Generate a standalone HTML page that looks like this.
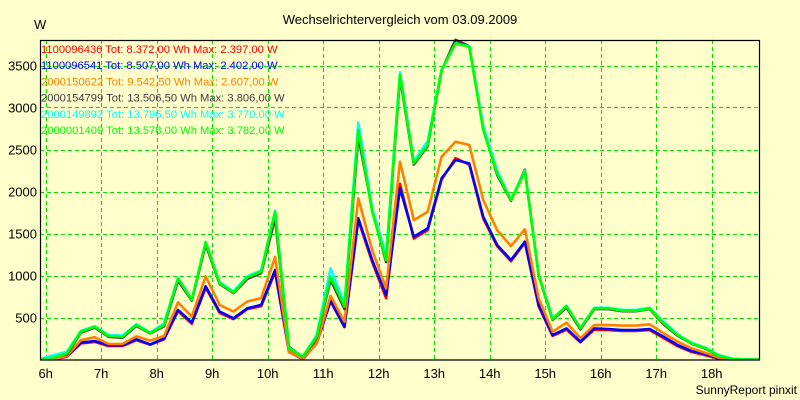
<!DOCTYPE html>
<html><head><meta charset="utf-8"><style>
html,body{margin:0;padding:0;background:#ffffcc;}
svg{display:block;font-family:"Liberation Sans",Arial,sans-serif;}
</style></head><body>
<svg id="chart" width="800" height="400" viewBox="0 0 800 400">
<rect x="0" y="0" width="800" height="400" fill="#ffffcc"/>
<text x="400" y="24" font-size="13" text-anchor="middle" fill="#000">Wechselrichtervergleich vom 03.09.2009</text>
<text x="34" y="29" font-size="13" fill="#000">W</text>
<text x="797" y="394" font-size="12" text-anchor="end" fill="#000">SunnyReport pinxit</text>
<g id="grid"></g>
<g id="series"></g>
<g id="axes"></g>
<g id="legend"></g>
</svg>
<script>
const times=["05:53","06:08","06:23","06:38","06:53","07:08","07:23","07:38","07:53","08:08","08:23","08:38","08:53","09:08","09:23","09:38","09:53","10:08","10:23","10:38","10:53","11:08","11:23","11:38","11:53","12:08","12:23","12:38","12:53","13:08","13:23","13:38","13:53","14:08","14:23","14:38","14:53","15:08","15:23","15:38","15:53","16:08","16:23","16:38","16:53","17:08","17:23","17:38","17:53","18:08","18:23","18:38","18:53"];
const redVals=[0,0,35,190,210,160,160,230,175,240,575,425,855,555,480,600,635,1040,90,5,190,690,385,1660,1160,728,2090,1440,1540,2140,2397,2320,1680,1350,1170,1390,630,280,355,205,355,350,340,340,350,255,160,90,50,8,0,0,0];
const blueVals=[0,0,40,200,220,170,170,240,180,250,590,440,870,570,490,610,650,1065,100,5,200,700,391,1681,1183,768,2037,1462,1561,2157,2375,2335,1700,1363,1184,1402,649,291,370,212,370,363,351,351,363,272,173,101,65,14,0,0,0];
const orangeVals=[0,0,45,230,265,185,185,275,225,280,680,510,990,650,570,690,730,1220,95,10,190,760,450,1919,1300,847,2355,1660,1760,2415,2593,2554,1900,1541,1350,1550,728,331,438,252,410,411,403,403,419,312,213,133,81,20,0,0,0];
const darkVals=[0,40,60,320,380,270,260,400,310,395,940,700,1370,900,790,960,1030,1680,150,30,260,950,600,2660,1780,1160,3360,2320,2540,3440,3806,3730,2760,2200,1890,2260,1000,470,620,360,600,600,575,575,600,420,285,190,130,40,5,0,0];
const cyanVals=[0,50,90,340,395,290,285,420,320,430,975,715,1400,920,810,990,1060,1770,140,35,290,1086,660,2820,1800,1240,3420,2360,2600,3450,3760,3730,2780,2250,1900,2250,1010,490,640,375,615,615,590,590,615,450,300,200,140,50,10,0,0];
const greenVals=[0,20,73,331,391,280,272,411,312,411,966,708,1395,907,796,978,1046,1760,133,33,272,986,629,2732,1759,1183,3387,2335,2554,3446,3764,3724,2732,2216,1899,2236,1006,477,636,371,608,609,581,581,605,431,292,193,133,42,6,0,0];
const seriesNames=["1100096436","1100096541","2000150622","2000154799","2000149892","2000001409"];
const seriesLegend=["Tot: 8.372,00 Wh Max: 2.397,00 W","Tot: 8.507,00 Wh Max: 2.402,00 W","Tot: 9.542,50 Wh Max: 2.607,00 W","Tot: 13.506,50 Wh Max: 3.806,00 W","Tot: 13.796,50 Wh Max: 3.770,00 W","Tot: 13.578,00 Wh Max: 3.782,00 W"];
const yTicks=[500,1000,1500,2000,2500,3000,3500];
const xTicks=[6,7,8,9,10,11,12,13,14,15,16,17,18];

const NS="http://www.w3.org/2000/svg";
const L=40,R=759,T=40,B=359.5;
function xs(h){return 45.7+(h-6)*55.5;}
function ys(v){return B-v*0.084;}
function th(s){const p=s.split(":");return +p[0]+(+p[1])/60;}
function mk(tag,parent){const e=document.createElementNS(NS,tag);parent.appendChild(e);return e;}
const grid=document.getElementById('grid'),axes=document.getElementById('axes'),sg=document.getElementById('series'),lg=document.getElementById('legend');

const clip=mk('clipPath',document.getElementById('chart'));clip.setAttribute('id','plotclip');
const cr=mk('rect',clip);cr.setAttribute('x',L);cr.setAttribute('y',T-3);cr.setAttribute('width',R-L);cr.setAttribute('height',B-T+3);
sg.setAttribute('clip-path','url(#plotclip)');

yTicks.forEach(v=>{
  const ln=mk('line',grid);
  
  
  ln.setAttribute('x1',L);ln.setAttribute('x2',R);ln.setAttribute('y1',Math.round(ys(v))+0.5);ln.setAttribute('y2',Math.round(ys(v))+0.5);
  ln.setAttribute('stroke','#00e000');ln.setAttribute('stroke-dasharray','4,3');
  const t=mk('text',axes);
  
  
  t.setAttribute('x',37);t.setAttribute('y',ys(v)+5);t.setAttribute('text-anchor','end');t.setAttribute('font-size','13');
  t.textContent=v;
});
xTicks.forEach(h=>{
  const ln=mk('line',grid);
  
  
  ln.setAttribute('x1',Math.round(xs(h))+0.5);ln.setAttribute('x2',Math.round(xs(h))+0.5);ln.setAttribute('y1',T);ln.setAttribute('y2',B);
  ln.setAttribute('stroke','#00e000');ln.setAttribute('stroke-dasharray','4,3');
  const t=mk('text',axes);
  
  
  t.setAttribute('x',xs(h));t.setAttribute('y',378);t.setAttribute('text-anchor','middle');t.setAttribute('font-size','13');
  t.textContent=h+'h';
});
const frame=mk('path',axes);


frame.setAttribute('d',`M${L+0.5},${T} L${L+0.5},${B+0.5} L${R+0.5},${B+0.5} L${R+0.5},${T+0.5} L${L},${T+0.5}`);
frame.setAttribute('fill','none');frame.setAttribute('stroke','#000');frame.setAttribute('stroke-width','1.2');

const allVals=[redVals,blueVals,orangeVals,darkVals,cyanVals,greenVals];
const colors=["#ff0000","#0000ff","#ff8000","#403840","#00ffff","#00ff00"];
const order=[0,1,2,3,4,5];
order.forEach(i=>{
  const p=mk('polyline',sg);
  
  
  p.setAttribute('points',allVals[i].map((v,k)=>xs(th(times[k])).toFixed(1)+','+ys(v).toFixed(1)).join(' '));
  p.setAttribute('fill','none');p.setAttribute('stroke',colors[i]);p.setAttribute('stroke-width','2.6');p.setAttribute('stroke-linejoin','round');
});
seriesNames.forEach((n,i)=>{
  const t=mk('text',lg);
  
  
  t.setAttribute('x',41);t.setAttribute('y',53+i*16.2);t.setAttribute('font-size','11.2');t.setAttribute('fill',colors[i]);
  t.textContent=n+' '+seriesLegend[i];
});
</script>
</body></html>
